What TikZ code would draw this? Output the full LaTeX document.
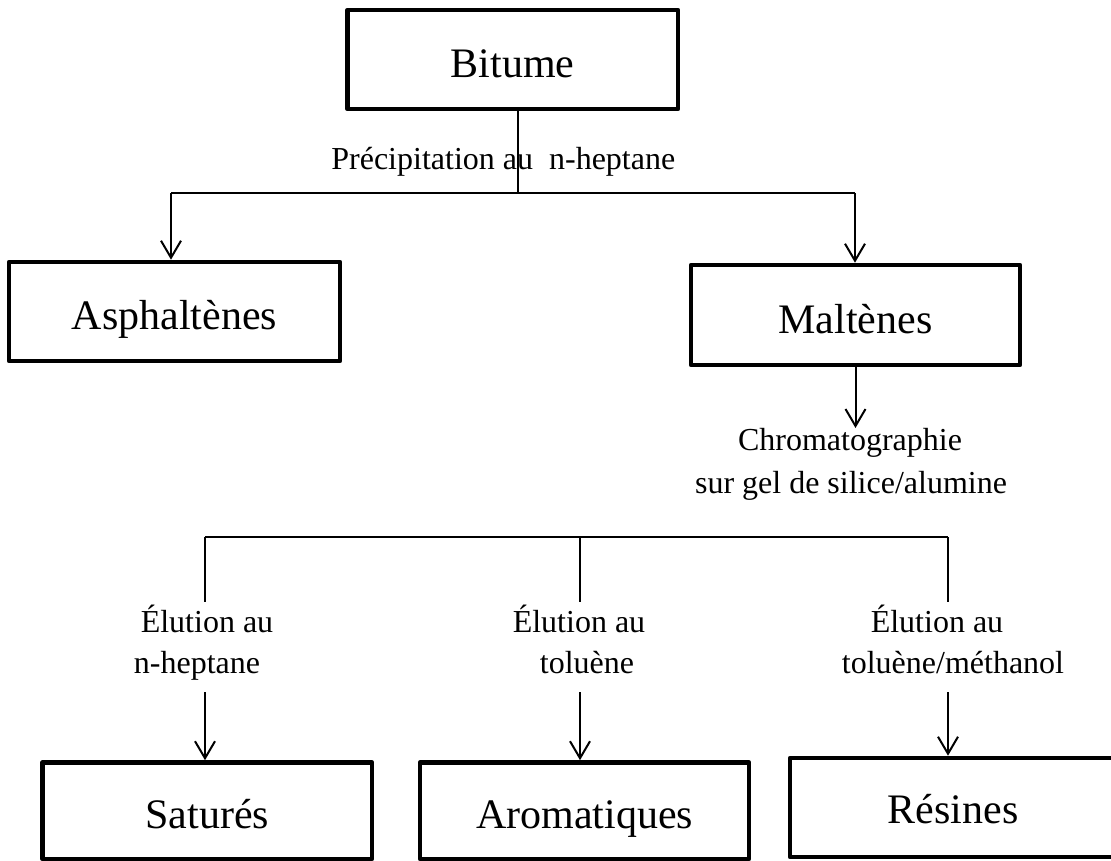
\documentclass[tikz,border=0pt]{standalone}
\usepackage{fontspec}
\setmainfont{Liberation Serif}
\usetikzlibrary{arrows.meta}
\tikzset{
  boxnode/.style={draw, line width=4.6pt, line join=round, inner sep=0pt, text depth=0pt,
    font=\fontsize{42}{50}\selectfont, anchor=center},
  lbl/.style={inner sep=0pt, anchor=base, font=\fontsize{32}{40}\selectfont},
  thinline/.style={line width=2pt},
  arr/.style={line width=2pt, -{Straight Barb[length=17pt,width=20pt,line width=2pt]}}
}
\begin{document}
\begin{tikzpicture}[x=1pt,y=-1pt]
\useasboundingbox (0,0) rectangle (1111,861);
\clip (0,0) rectangle (1111,861);
% boxes
\node[boxnode, minimum width=330.5pt, minimum height=99pt, text height=37pt] (bit) at (512.75,59.5) {Bitume};
\node[boxnode, minimum width=331pt, minimum height=99pt, text height=35pt] (asp) at (174.5,311.5) {Asphaltènes};
\node[boxnode, minimum width=329pt, minimum height=100pt, text height=36pt] (mal) at (855.5,315) {Maltènes};
\node[boxnode, minimum width=329.5pt, minimum height=96.5pt, text height=34.5pt] (sat) at (207.25,810.75) {Saturés};
\node[boxnode, minimum width=329pt, minimum height=96.5pt, text height=34.5pt] (aro) at (584.5,810.75) {Aromatiques};
\node[boxnode, minimum width=326pt, minimum height=99pt, text height=31pt] (res) at (953,807.5) {Résines};
% labels
\node[lbl] (prec) at (503.3,170) {Précipitation au\ \ n-heptane};
\node[lbl] (chromA) at (850,450) {Chromatographie};
\node[lbl] (chromB) at (851,493) {sur gel de silice/alumine};
\node[lbl] (e1a) at (207,632) {Élution au};
\node[lbl] (e1b) at (197,673) {n-heptane};
\node[lbl] (e2a) at (579,632) {Élution au};
\node[lbl] (e2b) at (587,673) {toluène};
\node[lbl] (e3a) at (937,632) {Élution au};
\node[lbl] (e3b) at (953,673) {toluène/méthanol};
% upper connectors
\coordinate (jc) at (518,193);
\coordinate (jl) at (171,193);
\coordinate (jr) at (855,193);
\draw[thinline] (bit.south -| jc) -- (jc);
\draw[thinline] (jl) -- (jr);
\draw[arr] (jl) -- (asp.north -| jl);
\draw[arr] (jr) -- (mal.north -| jr);
% maltenes to chromatography
\coordinate (ct) at (855.5,428);
\draw[arr] (mal.south) -- (ct);
% lower tree
\coordinate (hl) at (205,537);
\coordinate (hm) at (580,537);
\coordinate (hr) at (948,537);
\draw[thinline] (hl) -- (hr);
\coordinate (v1) at (205,602);
\coordinate (v2) at (580,602);
\coordinate (v3) at (948,602);
\draw[thinline] (hl) -- (v1);
\draw[thinline] (hm) -- (v2);
\draw[thinline] (hr) -- (v3);
\coordinate (s1) at (205,692);
\coordinate (s2) at (580,692);
\coordinate (s3) at (948,692);
\draw[arr] (s1) -- (sat.north -| s1);
\draw[arr] (s2) -- (aro.north -| s2);
\draw[arr] (s3) -- (res.north -| s3);
\end{tikzpicture}
\end{document}
